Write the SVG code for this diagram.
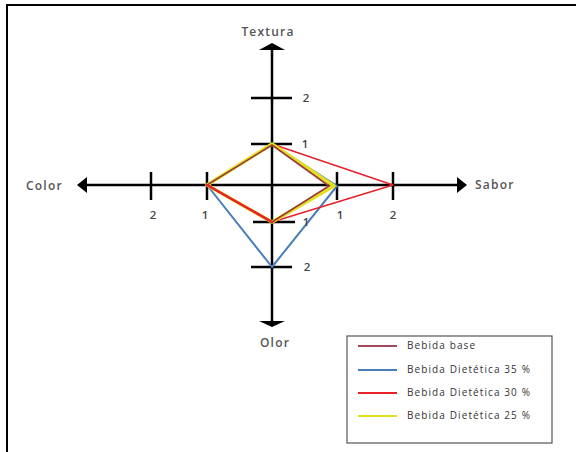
<svg xmlns="http://www.w3.org/2000/svg" width="576" height="452" viewBox="0 0 576 452">
<style>
.ax{stroke:#000;stroke-width:2.5;fill:none}
.tk{stroke:#000;stroke-width:2.5}
.lbl{font-family:"Open Sans","DejaVu Sans",sans-serif;font-size:12px;fill:#555;font-weight:600;letter-spacing:1.2px}
.num{font-family:"Open Sans","DejaVu Sans",sans-serif;font-size:11.5px;fill:#444;font-weight:600;text-anchor:middle}
.leg{font-family:"Open Sans","DejaVu Sans",sans-serif;font-size:10px;fill:#333;letter-spacing:1.1px}
.s{fill:none;stroke-linejoin:round}
</style>
<rect width="576" height="452" fill="#fff"/>
<g id="frame">
<line x1="6" y1="5" x2="576" y2="5" stroke="#000" stroke-width="2"/>
<line x1="7" y1="5" x2="7" y2="452" stroke="#000" stroke-width="2"/>
</g>
<g id="axes">
<line class="ax" x1="272" y1="48" x2="272" y2="323"/>
<line class="ax" x1="86" y1="185" x2="458" y2="185"/>
<polygon points="272,43 285,50 259,50" fill="#000"/>
<polygon points="272,327 285,321 259,321" fill="#000"/>
<polygon points="77,185 87,177 87,193" fill="#000"/>
<polygon points="467,185 457,177 457,193" fill="#000"/>
</g>
<g id="ticks">
<line class="tk" x1="251" y1="98" x2="292" y2="98"/>
<line class="tk" x1="251" y1="144" x2="292" y2="144"/>
<line class="tk" x1="253" y1="222" x2="295" y2="222"/>
<line class="tk" x1="251" y1="267" x2="292" y2="267"/>
<line class="tk" x1="151" y1="172" x2="151" y2="200"/>
<line class="tk" x1="207" y1="172" x2="207" y2="200"/>
<line class="tk" x1="337" y1="172" x2="337" y2="200"/>
<line class="tk" x1="393" y1="172" x2="393" y2="200"/>
</g>
<g id="series">
<polygon class="s" points="272,144 337,186 272,267 207,185" stroke="#4A7EBB" stroke-width="2"/>
<polygon class="s" points="272,144 393,185 272,222 207,185" stroke="#E8202A" stroke-width="1.5"/>
<polygon class="s" points="272,144 334,186 272,222 207,185" stroke="#E3E020" stroke-width="3.5"/>
<polygon class="s" points="272,145 329,186 272,222 207,185" stroke="#9B3A3A" stroke-width="1.6"/>
<line x1="207" y1="185" x2="272" y2="222" stroke="#E8202A" stroke-width="2.5" stroke-linecap="round"/>
</g>
<g id="tick-labels">
<text class="num" x="306" y="102">2</text>
<text class="num" x="305" y="148">1</text>
<text class="num" x="306" y="226">1</text>
<text class="num" x="307" y="271">2</text>
<text class="num" x="153" y="219">2</text>
<text class="num" x="205" y="219">1</text>
<text class="num" x="340" y="219">1</text>
<text class="num" x="393" y="219">2</text>
</g>
<g id="axis-labels">
<text class="lbl" x="268" y="36" text-anchor="middle">Textura</text>
<text class="lbl" x="275" y="347" text-anchor="middle">Olor</text>
<text class="lbl" x="26" y="190">Color</text>
<text class="lbl" x="475" y="189">Sabor</text>
</g>
<g id="legend">
<rect x="347" y="336" width="205" height="107" fill="#fff" stroke="#555" stroke-width="1.2"/>
<line x1="358" y1="346" x2="397" y2="346" stroke="#A34A5A" stroke-width="2"/>
<line x1="358" y1="370" x2="397" y2="370" stroke="#4A7EBB" stroke-width="2"/>
<line x1="358" y1="393" x2="397" y2="393" stroke="#E8202A" stroke-width="2"/>
<line x1="358" y1="416" x2="397" y2="416" stroke="#E3E020" stroke-width="2"/>
<text class="leg" x="407" y="349">Bebida base</text>
<text class="leg" x="407" y="373">Bebida Dietética 35 %</text>
<text class="leg" x="407" y="396">Bebida Dietética 30 %</text>
<text class="leg" x="407" y="419">Bebida Dietética 25 %</text>
</g>
</svg>
